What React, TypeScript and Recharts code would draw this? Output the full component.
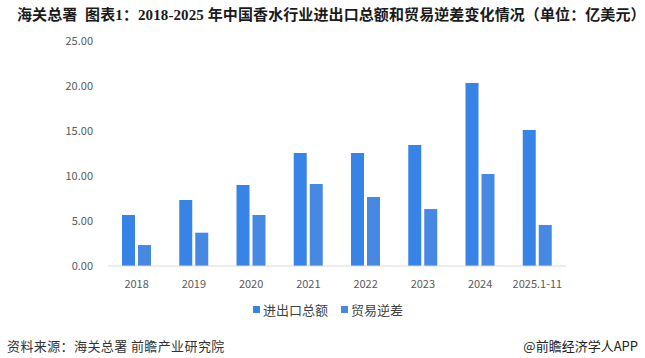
import { Bar, BarChart, XAxis, YAxis } from 'recharts';

const categories = ['2018', '2019', '2020', '2021', '2022', '2023', '2024', '2025.1-11'];
const totalTrade = [5.67, 7.33, 9.0, 12.56, 12.56, 13.44, 20.33, 15.1];
const tradeDeficit = [2.33, 3.7, 5.67, 9.1, 7.67, 6.33, 10.22, 4.56];
const yTicks = [0, 5, 10, 15, 20, 25];

const seriesNames = ['进出口总额', '贸易逆差'];
const seriesColors = ['#3884e6', '#4688e2'];

const data = categories.map((name, i) => ({
	name,
	total: totalTrade[i],
	deficit: tradeDeficit[i],
}));

const FONT = '"Noto Sans CJK SC", "Noto Sans", sans-serif';
const TITLE_FONT = '"Liberation Serif", "Noto Sans CJK SC", serif';

export default function App() {
	return (
		<div style={{ position: 'relative', width: 645, height: 358, background: '#fff', fontFamily: FONT }}>
			<style>{'body{margin:0}'}</style>
			<div
				style={{
					position: 'absolute',
					left: 17,
					top: 3,
					fontSize: 15,
					fontWeight: 700,
					fontFamily: TITLE_FONT,
					color: '#1a1a1a',
					whiteSpace: 'nowrap',
					letterSpacing: 0.1,
				}}
			>
				海关总署&nbsp;&nbsp;图表1：2018-2025 年中国香水行业进出口总额和贸易逆差变化情况（单位：亿美元）
			</div>
			<div style={{ position: 'absolute', left: 0, top: 0 }}>
				<BarChart
					width={645}
					height={358}
					data={data}
					margin={{ top: 41, right: 79, left: 48, bottom: 62 }}
					barSize={13}
					barGap={3}
				>
					<XAxis
						dataKey="name"
						tickLine={false}
						axisLine={{ stroke: '#d9d9d9' }}
						tick={{ fontSize: 11, fill: '#595959', fontFamily: FONT }}
						tickMargin={8}
						height={30}
					/>
					<YAxis
						domain={[0, 25]}
						ticks={yTicks}
						tickFormatter={(v: number) => v.toFixed(2)}
						axisLine={false}
						tickLine={false}
						tickSize={0}
						tickMargin={15}
						width={60}
						tick={{ fontSize: 11, fill: '#595959', fontFamily: FONT }}
					/>
					<Bar dataKey="total" fill={seriesColors[0]} isAnimationActive={false} />
					<Bar dataKey="deficit" fill={seriesColors[1]} isAnimationActive={false} />
				</BarChart>
			</div>
			<div
				style={{
					position: 'absolute',
					left: 253,
					top: 300,
					display: 'flex',
					alignItems: 'center',
					fontSize: 13,
					color: '#404040',
				}}
			>
				{seriesNames.map((n, i) => (
					<div key={n} style={{ display: 'flex', alignItems: 'center', marginRight: 13 }}>
						<span style={{ width: 7, height: 7, background: seriesColors[i], marginRight: 3 }} />
						<span>{n}</span>
					</div>
				))}
			</div>
			<div style={{ position: 'absolute', left: 7, top: 336, fontSize: 13, color: '#333', letterSpacing: 0.4 }}>
				资料来源：海关总署 前瞻产业研究院
			</div>
			<div style={{ position: 'absolute', right: 7, top: 336, fontSize: 13, color: '#222' }}>
				@前瞻经济学人APP
			</div>
		</div>
	);
}
